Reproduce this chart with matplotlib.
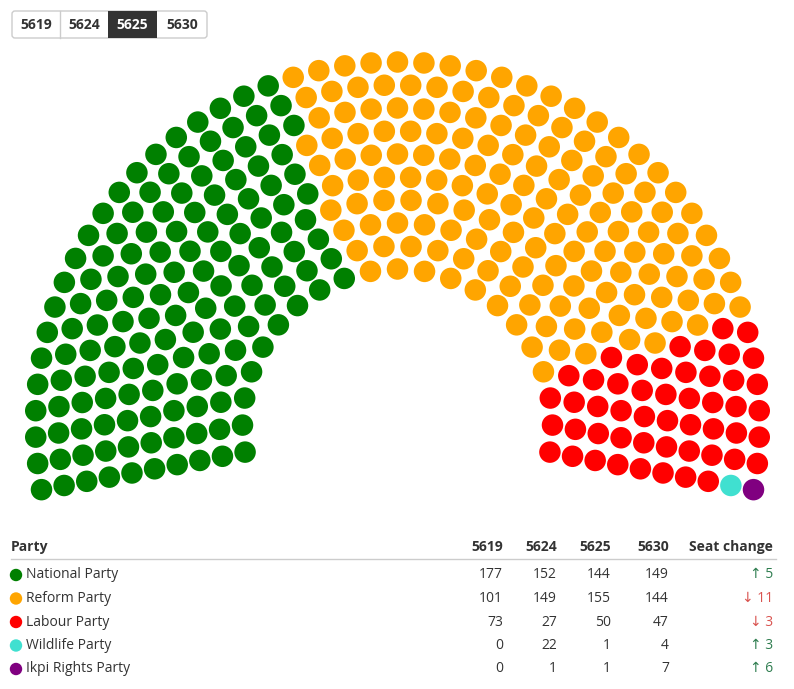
import numpy as np
import matplotlib
matplotlib.use("Agg")
import matplotlib.pyplot as plt
from matplotlib.patches import FancyBboxPatch, Rectangle

parties = ["National Party", "Reform Party", "Labour Party", "Wildlife Party", "Ikpi Rights Party"]
colors = ["#008000", "#FFA500", "#FF0000", "#40E0D0", "#800080"]
years = ["5619", "5624", "5625", "5630"]
seats_5619 = [177, 101, 73, 0, 0]
seats_5624 = [152, 149, 27, 22, 1]
seats_5625 = [144, 155, 50, 1, 1]
seats_5630 = [149, 144, 47, 4, 7]
selected = "5625"

plt.rcParams['font.family'] = ['Open Sans', 'DejaVu Sans']
W, H = 794, 689
fig = plt.figure(figsize=(W/100, H/100), dpi=100)
ax = fig.add_axes([0, 0, 1, 1])
ax.set_xlim(0, W); ax.set_ylim(H, 0); ax.axis('off')

# buttons
bx = [12, 60, 108, 157, 207]
ax.add_patch(FancyBboxPatch((12, 11), 195, 27, boxstyle="round,pad=0,rounding_size=3",
                            fc="white", ec="#cccccc", lw=1))
for i, y in enumerate(years):
    if y == selected:
        ax.add_patch(Rectangle((bx[i], 11), bx[i+1]-bx[i], 27, fc="#333333", ec="none"))
    elif i > 0 and years[i-1] != selected:
        ax.plot([bx[i], bx[i]], [11, 38], color="#cccccc", lw=1)
    ax.text((bx[i]+bx[i+1])/2, 25, y, ha="center", va="center", fontsize=10, fontweight="bold",
            color="white" if y == selected else "#333333")

# parliament
data = {"5619": seats_5619, "5624": seats_5624, "5625": seats_5625, "5630": seats_5630}[selected]
total = sum(data)
nrows = 10
cx, cy = 397.5, 424
radii = np.linspace(155, 362, nrows)
raw = total*radii/radii.sum()
counts = np.floor(raw).astype(int)
rem = total - counts.sum()
order = np.argsort(-(raw - counts))
counts[order[:rem]] += 1
a0 = np.deg2rad(10.45)
pts = []
for r, n in zip(radii, counts):
    angs = np.linspace(np.pi + a0, -a0, n)
    for a in angs:
        pts.append((a, cx + r*np.cos(a), cy - r*np.sin(a)))
pts.sort(key=lambda p: -p[0])
cols = []
for c, n in zip(colors, data):
    cols += [c]*n
xs = [p[1] for p in pts]; ys = [p[2] for p in pts]
ax.scatter(xs, ys, s=(21.5*0.72)**2, c=cols, edgecolors="none")

# table
colx = [503, 557, 611, 669]
ax.text(11, 547, "Party", fontsize=10, fontweight="bold", color="#333333", va="center")
for x, y in zip(colx, years):
    ax.text(x, 547, y, fontsize=10, fontweight="bold", color="#333333", va="center", ha="right")
ax.text(773, 547, "Seat change", fontsize=10, fontweight="bold", color="#333333", va="center", ha="right")
ax.plot([11, 776], [559, 559], color="#cccccc", lw=1)
for i, p in enumerate(parties):
    y = 575 + i*23.5
    ax.scatter([16], [y], s=80, c=colors[i], edgecolors="none")
    ax.text(26, y, p, fontsize=10, color="#333333", va="center")
    vals = [seats_5619[i], seats_5624[i], seats_5625[i], seats_5630[i]]
    for x, v in zip(colx, vals):
        ax.text(x, y, str(v), fontsize=10, color="#333333", va="center", ha="right")
    ch = seats_5630[i] - seats_5625[i]
    if ch >= 0:
        ax.text(773, y, f"↑ {ch}", fontsize=10, color="#2e7d4f", va="center", ha="right")
    else:
        ax.text(773, y, f"↓ {-ch}", fontsize=10, color="#d9534f", va="center", ha="right")

fig.savefig("out.png", dpi=100)
